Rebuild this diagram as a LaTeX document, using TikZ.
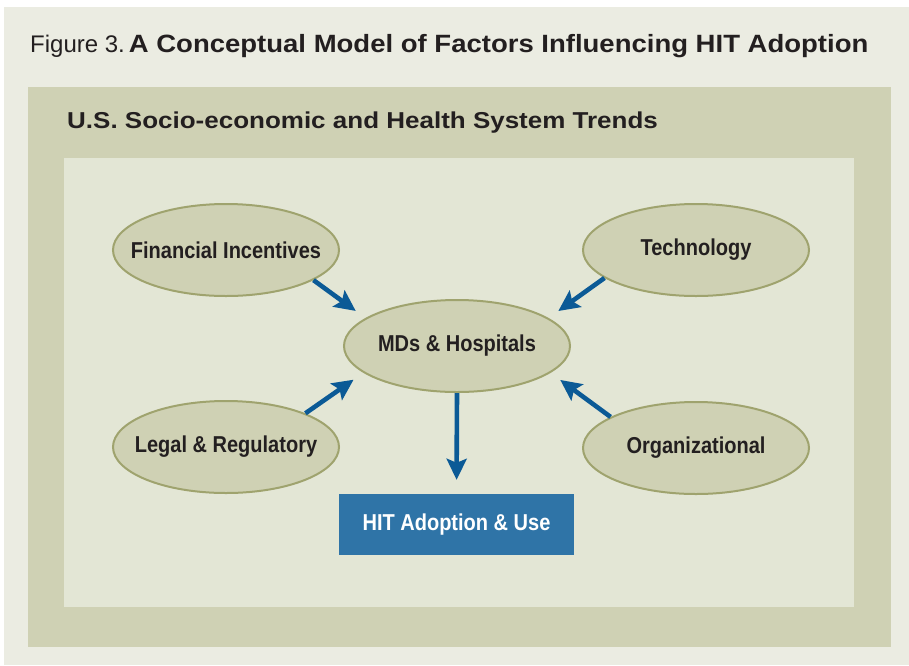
\documentclass[tikz,border=0pt]{standalone}
\usepackage{fontspec}
\setmainfont{Liberation Sans}
\newfontfamily\condfont[FakeStretch=0.87]{Liberation Sans}
\newfontfamily\widefont[FakeStretch=1.1]{Liberation Sans}
\newfontfamily\trendfont[FakeStretch=1.13]{Liberation Sans}
\usetikzlibrary{shapes,arrows.meta}
\definecolor{pagebg}{HTML}{EBECE2}
\definecolor{trendpanel}{HTML}{CFD1B4}
\definecolor{innerpanel}{HTML}{E3E6D5}
\definecolor{ovalfill}{HTML}{CFD1B4}
\definecolor{ovaledge}{HTML}{9FA36E}
\definecolor{flowblue}{HTML}{0B5A96}
\definecolor{boxblue}{HTML}{2F74A7}
\definecolor{inkdark}{HTML}{231F20}

\begin{document}
\begin{tikzpicture}[x=1pt,y=-1pt]
    \tikzstyle{every node}=[inner sep=0pt]
    \tikzstyle{factor}=[ellipse,draw=ovaledge,line width=2pt,fill=ovalfill,
      inner xsep=-20pt,minimum width=226pt,minimum height=92pt,text=inkdark,
      font=\condfont\bfseries\fontsize{23}{23}\selectfont]
    \tikzstyle{flow}=[draw=flowblue,line width=4.6pt,
      -{Stealth[length=21pt,width=20pt,inset=4pt]}]
    \useasboundingbox (0,0) rectangle (909,665);
    \fill[white] (0,0) rectangle (909,665);
    \fill[pagebg] (4,7) rectangle (909,665);
    \fill[trendpanel] (28,87) rectangle (891,647);
    \fill[innerpanel] (64,158) rectangle (854,607);
    \node[anchor=base west,text=inkdark] (title) at (30,52)
      {\fontsize{24}{24}\selectfont Figure 3.\hspace{4pt}{\widefont\bfseries\fontsize{25}{25}\selectfont A Conceptual Model of Factors Influencing HIT Adoption}};
    \node[anchor=base west,text=inkdark] (trends) at (67,128)
      {\trendfont\bfseries\fontsize{23}{23}\selectfont U.S. Socio-economic and Health System Trends};
    \node[factor] (fin) at (226,250) {Financial Incentives};
    \node[factor] (tech) at (696,250) {Technology};
    \node[factor] (mds) at (457,346) {MDs \& Hospitals};
    \node[factor] (legal) at (226,447) {Legal \& Regulatory};
    \node[factor] (org) at (696,448) {Organizational};
    \node[fill=boxblue,minimum width=235pt,minimum height=61pt,text=white,
      font=\condfont\bfseries\fontsize{23}{23}\selectfont] (hit) at (456.5,524.5) {HIT Adoption \& Use};
    \draw[flow,shorten >=12pt] (fin.-19) -- (mds.163);
    \draw[flow,shorten >=12pt] (tech.-163) -- (mds.17);
    \draw[flow,shorten >=12pt] (legal.23) -- (mds.-164);
    \draw[flow,shorten >=12pt] (org.160) -- (mds.-16);
    \draw[flow,shorten >=14pt] (mds.south) -- (hit.north);
\end{tikzpicture}
\end{document}
